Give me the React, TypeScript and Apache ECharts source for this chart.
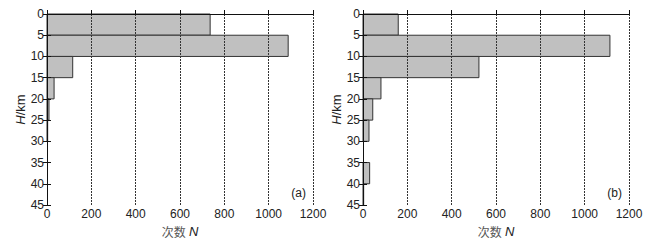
import React, { useEffect, useRef } from "react";
import * as echarts from "echarts";

const binLower = [0, 5, 10, 15, 20, 25, 30, 35, 40];
const binWidth = 5;
const countsA = [736, 1088, 116, 32, 9, 3, 0, 0, 0];
const countsB = [159, 1114, 523, 81, 44, 27, 0, 30, 3];
const panelLabels = ["(a)", "(b)"];
const xName = "次数";
const xNameVar = "N";
const yNameVar = "H";
const yNameUnit = "/km";

const FONT = "Liberation Sans, Arial, sans-serif";

function buildData(counts: number[]) {
  return binLower.map((lo, i) => [lo, lo + binWidth, counts[i]]);
}

export default function App() {
  const ref = useRef<HTMLDivElement>(null);
  useEffect(() => {
    if (!ref.current) return;
    const chart = echarts.init(ref.current, null, { renderer: "svg" });
    const grids = [
      { left: 47, top: 14, width: 266, height: 191 },
      { left: 363, top: 14, width: 266, height: 191 },
    ];
    const xAxes: any[] = [];
    const yAxes: any[] = [];
    const series: any[] = [];
    const graphics: any[] = [];
    [countsA, countsB].forEach((counts, gi) => {
      xAxes.push({
        type: "value",
        gridIndex: gi,
        min: 0,
        max: 1200,
        interval: 200,
        z: 5,
        name: "{cn|" + xName + "} {it|" + xNameVar + "}",
        nameLocation: "middle",
        nameGap: 14,
        nameTextStyle: {
          rich: {
            cn: { fontFamily: "Noto Sans CJK SC", fontSize: 12, color: "#555" },
            it: { fontFamily: FONT, fontSize: 13, fontStyle: "italic", color: "#222" },
          },
        },
        axisLine: { show: true, lineStyle: { color: "#111", width: 1 } },
        axisTick: { show: true, inside: true, length: 4, lineStyle: { color: "#111" } },
        axisLabel: { fontFamily: FONT, fontSize: 12, color: "#222", margin: 3, formatter: (v: number) => String(v) },
        splitLine: { show: true, lineStyle: { color: "#333", type: [2, 1], width: 1 } },
      });
      yAxes.push({
        type: "value",
        gridIndex: gi,
        inverse: true,
        min: 0,
        max: 45,
        interval: 5,
        z: 5,
        name: "{it|" + yNameVar + "}{n|" + yNameUnit + "}",
        nameLocation: "middle",
        nameGap: 20,
        nameRotate: 90,
        nameTextStyle: {
          rich: {
            it: { fontFamily: FONT, fontSize: 13, fontStyle: "italic", color: "#222" },
            n: { fontFamily: FONT, fontSize: 13, color: "#222" },
          },
        },
        axisLine: { show: true, lineStyle: { color: "#111", width: 1 } },
        axisTick: { show: true, inside: true, length: 4, lineStyle: { color: "#111" } },
        axisLabel: { fontFamily: FONT, fontSize: 12, color: "#222", margin: 3 },
        splitLine: { show: false },
      });
      yAxes.push({
        type: "value",
        gridIndex: gi,
        position: "right",
        inverse: true,
        min: 0,
        max: 45,
        interval: 5,
        z: 5,
        axisLine: { show: true, lineStyle: { color: "#111", width: 1 } },
        axisTick: { show: true, inside: true, length: 4, lineStyle: { color: "#111" } },
        axisLabel: { show: false },
        splitLine: { show: false },
      });
      xAxes.push({
        type: "value",
        gridIndex: gi,
        position: "top",
        min: 0,
        max: 1200,
        interval: 200,
        z: 5,
        axisLine: { show: true, lineStyle: { color: "#111", width: 1 } },
        axisTick: { show: false },
        axisLabel: { show: false },
        splitLine: { show: false },
      });
      series.push({
        type: "custom",
        xAxisIndex: gi * 2,
        yAxisIndex: gi * 2,
        z: 1,
        data: buildData(counts),
        encode: { x: 2, y: [0, 1] },
        renderItem: (params: any, api: any) => {
          const lo = api.value(0);
          const hi = api.value(1);
          const n = api.value(2);
          if (!n) return null;
          const p0 = api.coord([0, lo]);
          const p1 = api.coord([n, hi]);
          return {
            type: "rect",
            shape: { x: p0[0], y: p0[1], width: p1[0] - p0[0], height: p1[1] - p0[1] },
            style: { fill: "#c0c0c0", stroke: "#333", lineWidth: 1 },
          };
        },
      });
      graphics.push({
        type: "text",
        right: gi === 0 ? 672 - 306 : 672 - 622,
        top: 187,
        style: { text: panelLabels[gi], font: "12px " + FONT, fill: "#222" },
      });
    });
    chart.setOption({
      animation: false,
      grid: grids,
      xAxis: xAxes,
      yAxis: yAxes,
      series,
      graphic: graphics,
    });
    return () => chart.dispose();
  }, []);
  return <div ref={ref} style={{ width: 672, height: 245, position: "absolute", left: 0, top: 0, background: "#fff" }} />;
}
